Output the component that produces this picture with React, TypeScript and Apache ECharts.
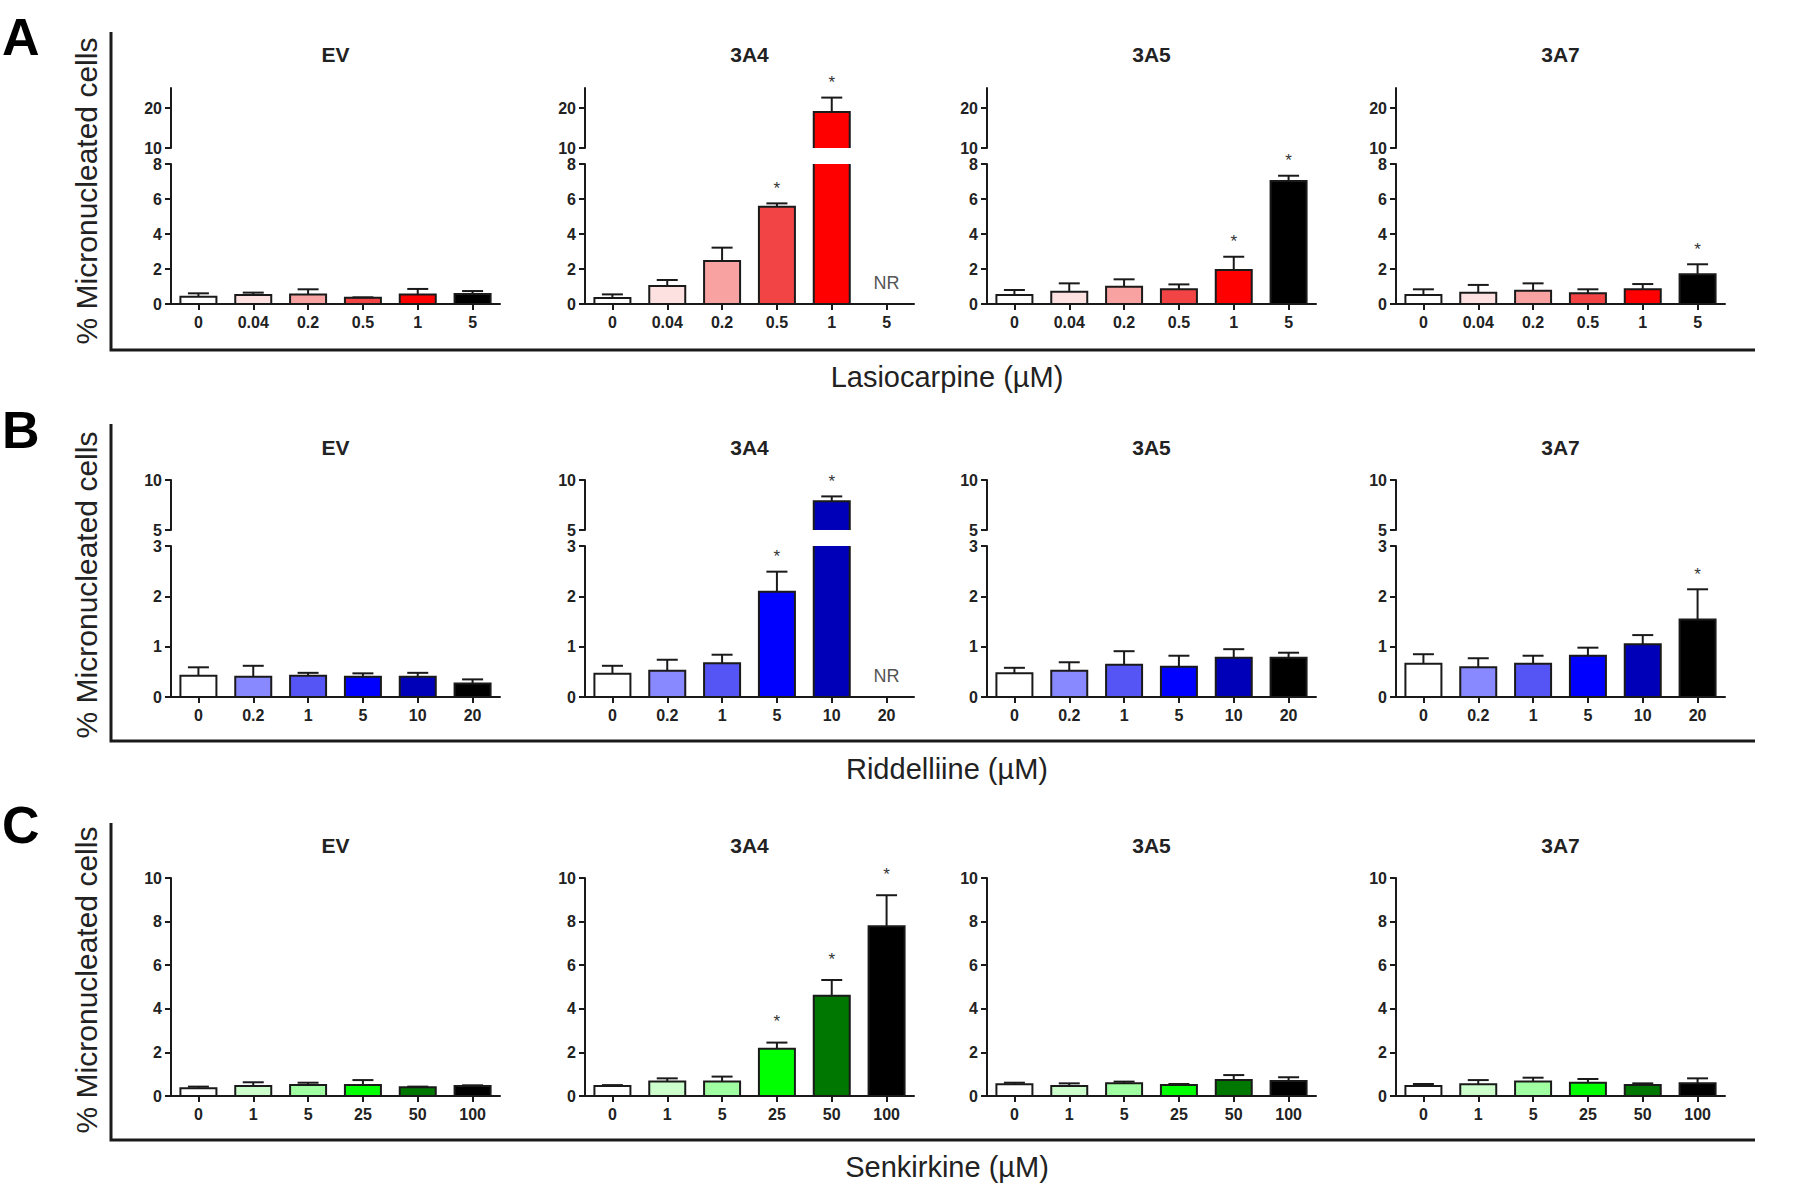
import React, { useEffect, useRef } from "react";
import * as echarts from "echarts";

// ---------------- DATA ----------------
const groupNames = ["EV", "3A4", "3A5", "3A7"];

const lasioCats = ["0", "0.04", "0.2", "0.5", "1", "5"];
const riddCats = ["0", "0.2", "1", "5", "10", "20"];
const senkCats = ["0", "1", "5", "25", "50", "100"];

// Lasiocarpine (null = NR)
const lasioEV = [0.42, 0.51, 0.55, 0.36, 0.55, 0.57];
const lasioEVSem = [0.19, 0.14, 0.29, 0.02, 0.31, 0.17];
const lasio3A4 = [0.35, 1.03, 2.46, 5.56, 19.0, null];
const lasio3A4Sem = [0.2, 0.34, 0.76, 0.19, 3.6, null];
const lasio3A5 = [0.51, 0.7, 0.99, 0.84, 1.94, 7.03];
const lasio3A5Sem = [0.29, 0.48, 0.42, 0.28, 0.76, 0.3];
const lasio3A7 = [0.51, 0.65, 0.76, 0.61, 0.84, 1.7];
const lasio3A7Sem = [0.33, 0.44, 0.42, 0.23, 0.3, 0.57];
const lasioStars = [[], [3, 4], [4, 5], [5]];

// Riddelliine
const riddEV = [0.42, 0.4, 0.42, 0.4, 0.4, 0.27];
const riddEVSem = [0.17, 0.22, 0.06, 0.07, 0.08, 0.08];
const ridd3A4 = [0.46, 0.52, 0.67, 2.09, 7.87, null];
const ridd3A4Sem = [0.16, 0.22, 0.17, 0.4, 0.49, null];
const ridd3A5 = [0.47, 0.52, 0.64, 0.6, 0.78, 0.78];
const ridd3A5Sem = [0.11, 0.17, 0.27, 0.22, 0.17, 0.1];
const ridd3A7 = [0.66, 0.59, 0.66, 0.82, 1.05, 1.54];
const ridd3A7Sem = [0.19, 0.18, 0.16, 0.16, 0.18, 0.6];
const riddStars = [[], [3, 4], [], [5]];

// Senkirkine
const senkEV = [0.35, 0.46, 0.5, 0.5, 0.4, 0.46];
const senkEVSem = [0.08, 0.17, 0.11, 0.23, 0.03, 0.03];
const senk3A4 = [0.46, 0.66, 0.66, 2.17, 4.6, 7.79];
const senk3A4Sem = [0.04, 0.15, 0.23, 0.28, 0.72, 1.42];
const senk3A5 = [0.54, 0.46, 0.58, 0.5, 0.73, 0.69];
const senk3A5Sem = [0.07, 0.12, 0.08, 0.05, 0.23, 0.17];
const senk3A7 = [0.46, 0.54, 0.66, 0.61, 0.5, 0.58];
const senk3A7Sem = [0.09, 0.19, 0.18, 0.17, 0.08, 0.23];
const senkStars = [[], [3, 4, 5], [], []];

// axis ranges and ticks
const lasioUpperRange = [10, 25];
const lasioUpperTicks = [10, 20];
const lasioLowerRange = [0, 8];
const lasioLowerTicks = [0, 2, 4, 6, 8];
const riddUpperRange = [5, 10];
const riddUpperTicks = [5, 10];
const riddLowerRange = [0, 3];
const riddLowerTicks = [0, 1, 2, 3];
const senkRange = [0, 10];
const senkTicks = [0, 2, 4, 6, 8, 10];

const yTitle = "% Micronucleated cells";

// ---------------- STYLE / LAYOUT ----------------
const FONT = "'Liberation Sans', Arial, Helvetica, sans-serif";
const INK = "#1a1a1a";
const redFills = ["#ffffff", "#fde0e0", "#f9a2a2", "#f24444", "#ff0000", "#000000"];
const blueFills = ["#ffffff", "#8888ff", "#5555f5", "#0000ff", "#0000b8", "#000000"];
const greenFills = ["#ffffff", "#ccffcc", "#a0ffa0", "#00ff00", "#007700", "#000000"];

const colLeft = [171, 585, 987, 1396];
const gridW = 329;
const BAR_W = 36;
const CAP_HW = 10.5;

const rows = [
  {
    letter: "A", xTitle: "Lasiocarpine (\u00b5M)", cats: lasioCats,
    means: [lasioEV, lasio3A4, lasio3A5, lasio3A7],
    sems: [lasioEVSem, lasio3A4Sem, lasio3A5Sem, lasio3A7Sem],
    stars: lasioStars, fills: redFills, starOff: 15,
    letterY: 37, titleY: 54, frameTop: 32, frameBottom: 350, xTitleY: 377, yTitleY: 191,
    segs: [
      { top: 88, height: 60, range: lasioUpperRange, ticks: lasioUpperTicks },
      { top: 164, height: 140, range: lasioLowerRange, ticks: lasioLowerTicks },
    ],
  },
  {
    letter: "B", xTitle: "Riddelliine (\u00b5M)", cats: riddCats,
    means: [riddEV, ridd3A4, ridd3A5, ridd3A7],
    sems: [riddEVSem, ridd3A4Sem, ridd3A5Sem, ridd3A7Sem],
    stars: riddStars, fills: blueFills, starOff: 15,
    letterY: 430, titleY: 447, frameTop: 424, frameBottom: 741, xTitleY: 769, yTitleY: 585,
    segs: [
      { top: 480, height: 50, range: riddUpperRange, ticks: riddUpperTicks },
      { top: 546, height: 151, range: riddLowerRange, ticks: riddLowerTicks },
    ],
  },
  {
    letter: "C", xTitle: "Senkirkine (\u00b5M)", cats: senkCats,
    means: [senkEV, senk3A4, senk3A5, senk3A7],
    sems: [senkEVSem, senk3A4Sem, senk3A5Sem, senk3A7Sem],
    stars: senkStars, fills: greenFills, starOff: 21,
    letterY: 825, titleY: 845, frameTop: 823, frameBottom: 1140, xTitleY: 1167, yTitleY: 980,
    segs: [{ top: 878, height: 218, range: senkRange, ticks: senkTicks }],
  },
];

function makeRender(fills: string[], starOff: number) {
  return (params: any, api: any) => {
    const cs = params.coordSys;
    const top = cs.y;
    const bot = cs.y + cs.height;
    const inside = (y: number) => y >= top - 0.5 && y <= bot + 0.5;
    const clamp = (y: number) => Math.max(top, Math.min(bot, y));
    const i = api.value(0);
    const m = api.value(1);
    const e = api.value(2);
    const star = api.value(3);
    const nr = api.value(4);
    const base = api.coord([i, 0]);
    const cx = base[0];
    const yBaseRaw = base[1];
    const children: any[] = [];
    if (nr) {
      if (inside(yBaseRaw)) {
        children.push({
          type: "text",
          style: {
            text: "NR", x: cx, y: yBaseRaw - 21,
            align: "center", verticalAlign: "middle",
            textAlign: "center", textVerticalAlign: "middle",
            font: `normal 18px ${FONT}`, fill: "#555555",
          },
        });
      }
      return { type: "group", children };
    }
    const hw = BAR_W / 2;
    const yValRaw = api.coord([i, m])[1];
    const yErrRaw = api.coord([i, m + e])[1];
    const yB = clamp(yBaseRaw);
    const yV = clamp(yValRaw);
    const lineStyle = { stroke: INK, lineWidth: 2, fill: "none" };
    if (yB - yV > 0.5) {
      children.push({
        type: "rect",
        shape: { x: cx - hw, y: yV, width: BAR_W, height: yB - yV },
        style: { fill: fills[i], stroke: "none" },
      });
      if (inside(yValRaw)) {
        children.push({
          type: "polyline",
          shape: { points: [[cx - hw, yB], [cx - hw, yV], [cx + hw, yV], [cx + hw, yB]] },
          style: lineStyle,
        });
      } else {
        children.push({ type: "line", shape: { x1: cx - hw, y1: yB, x2: cx - hw, y2: yV }, style: lineStyle });
        children.push({ type: "line", shape: { x1: cx + hw, y1: yB, x2: cx + hw, y2: yV }, style: lineStyle });
      }
    }
    if (e > 0) {
      const yE = clamp(yErrRaw);
      if (yV - yE > 0.5) {
        children.push({ type: "line", shape: { x1: cx, y1: yV, x2: cx, y2: yE }, style: lineStyle });
      }
      if (inside(yErrRaw)) {
        children.push({
          type: "line",
          shape: { x1: cx - CAP_HW, y1: yErrRaw, x2: cx + CAP_HW, y2: yErrRaw },
          style: lineStyle,
        });
      }
    }
    if (star && inside(yErrRaw)) {
      children.push({
        type: "text",
        style: {
          text: "*", x: cx, y: yErrRaw - starOff,
          align: "center", verticalAlign: "middle",
          textAlign: "center", textVerticalAlign: "middle",
          font: `normal 17px ${FONT}`, fill: "#333333",
        },
      });
    }
    return { type: "group", children };
  };
}

function buildOption() {
  const grid: any[] = [];
  const xAxis: any[] = [];
  const yAxis: any[] = [];
  const series: any[] = [];
  const graphic: any[] = [];

  rows.forEach((row) => {
    // panel letter
    graphic.push({
      type: "text", x: 2, y: row.letterY,
      style: {
        text: row.letter, align: "left", verticalAlign: "middle",
        textAlign: "left", textVerticalAlign: "middle",
        font: `bold 52px ${FONT}`, fill: "#000",
      },
    });
    // y title
    graphic.push({
      type: "text", x: 86, y: row.yTitleY, rotation: Math.PI / 2,
      style: {
        text: yTitle, align: "center", verticalAlign: "middle",
        textAlign: "center", textVerticalAlign: "middle",
        font: `normal 30px ${FONT}`, fill: "#222",
      },
    });
    // frame
    graphic.push({
      type: "polyline",
      shape: { points: [[111, row.frameTop], [111, row.frameBottom], [1755, row.frameBottom]] },
      style: { stroke: INK, lineWidth: 3, fill: "none" },
    });
    // x title
    graphic.push({
      type: "text", x: 947, y: row.xTitleY,
      style: {
        text: row.xTitle, align: "center", verticalAlign: "middle",
        textAlign: "center", textVerticalAlign: "middle",
        font: `normal 29px ${FONT}`, fill: "#222",
      },
    });

    row.means.forEach((means, c) => {
      // group title
      graphic.push({
        type: "text", x: colLeft[c] + gridW / 2, y: row.titleY,
        style: {
          text: groupNames[c], align: "center", verticalAlign: "middle",
          textAlign: "center", textVerticalAlign: "middle",
          font: `bold 21px ${FONT}`, fill: "#222",
        },
      });
      const sems = row.sems[c];
      const stars = row.stars[c];
      const data = means.map((m, i) =>
        m == null ? [i, 0, 0, 0, 1] : [i, m, sems[i] as number, stars.indexOf(i) >= 0 ? 1 : 0, 0]
      );
      row.segs.forEach((seg, s) => {
        const idx = grid.length;
        const isLower = s === row.segs.length - 1;
        grid.push({
          left: colLeft[c], top: seg.top, width: gridW, height: seg.height,
          containLabel: false, outerBoundsMode: "none",
        });
        xAxis.push({
          type: "category", gridIndex: idx, data: row.cats, show: isLower, z: 5,
          boundaryGap: true,
          axisLine: { show: true, onZero: false, lineStyle: { color: INK, width: 2 } },
          axisTick: { show: true, alignWithLabel: true, length: 6, lineStyle: { color: INK, width: 2 } },
          axisLabel: {
            show: true, interval: 0, margin: 10, fontFamily: FONT, fontWeight: "bold",
            fontSize: 16, color: "#222",
          },
          splitLine: { show: false },
        });
        yAxis.push({
          type: "value", gridIndex: idx, min: seg.range[0], max: seg.range[1], z: 5,
          axisLine: { show: true, onZero: false, lineStyle: { color: INK, width: 2 } },
          axisTick: { show: true, length: 6, customValues: seg.ticks, lineStyle: { color: INK, width: 2 } },
          axisLabel: {
            show: true, customValues: seg.ticks, margin: 9, fontFamily: FONT,
            fontWeight: "bold", fontSize: 16, color: "#222",
          },
          splitLine: { show: false },
        });
        series.push({
          type: "custom", xAxisIndex: idx, yAxisIndex: idx, z: 2,
          renderItem: makeRender(row.fills, row.starOff),
          data, clip: false,
        });
      });
    });
  });

  return {
    animation: false,
    backgroundColor: "#ffffff",
    textStyle: { fontFamily: FONT },
    grid, xAxis, yAxis, series, graphic,
  };
}

export default function App() {
  const ref = useRef<HTMLDivElement>(null);
  useEffect(() => {
    document.body.style.margin = "0";
    if (!ref.current) return;
    const chart = echarts.init(ref.current, undefined, { renderer: "svg" });
    chart.setOption(buildOption() as any);
    return () => chart.dispose();
  }, []);
  return (
    <div
      ref={ref}
      style={{ width: 1800, height: 1185, position: "absolute", left: 0, top: 0, background: "#fff" }}
    />
  );
}
